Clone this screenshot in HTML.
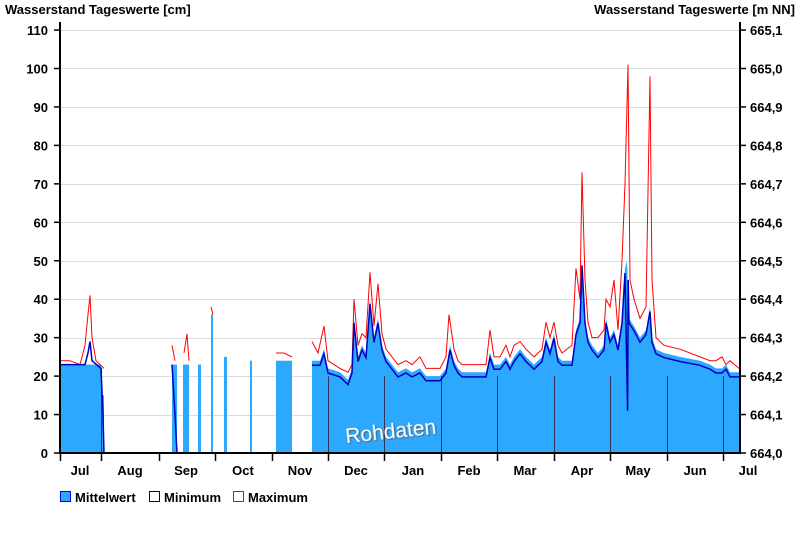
<!DOCTYPE html>
<html><head><meta charset="utf-8"><style>
body{margin:0;background:#fff;}
svg{display:block;font-family:"Liberation Sans",sans-serif;}
</style></head><body>
<svg width="800" height="550" viewBox="0 0 800 550">
<defs>
<filter id="sh"><feDropShadow dx="1" dy="1" stdDeviation="0.8" flood-color="#555"/></filter>
</defs>
<text x="5" y="14" font-size="13" font-weight="bold">Wasserstand Tageswerte [cm]</text>
<text x="795" y="14" font-size="13" font-weight="bold" text-anchor="end">Wasserstand Tageswerte [m NN]</text>
<g stroke="#ddd" stroke-width="1">
<line x1="60" x2="740" y1="30.5" y2="30.5"/><line x1="60" x2="740" y1="68.5" y2="68.5"/><line x1="60" x2="740" y1="107.5" y2="107.5"/><line x1="60" x2="740" y1="145.5" y2="145.5"/><line x1="60" x2="740" y1="184.5" y2="184.5"/><line x1="60" x2="740" y1="222.5" y2="222.5"/><line x1="60" x2="740" y1="261.5" y2="261.5"/><line x1="60" x2="740" y1="299.5" y2="299.5"/><line x1="60" x2="740" y1="338.5" y2="338.5"/><line x1="60" x2="740" y1="376.5" y2="376.5"/><line x1="60" x2="740" y1="415.5" y2="415.5"/>
</g>
<g id="data"></g>
<text x="345" y="438" font-size="21" fill="#fff" filter="url(#sh)" transform="rotate(-6 395 430)">Rohdaten</text>
<g stroke="#000" stroke-width="2">
<line x1="60" y1="22" x2="60" y2="454"/><line x1="740" y1="22" x2="740" y2="454"/><line x1="59" y1="453" x2="741" y2="453"/>
</g>
<g id="ticks" stroke="#000" stroke-width="1.5"></g>
<g font-size="13" font-weight="bold" text-anchor="end" id="yl"></g>
<g font-size="13" font-weight="bold" id="yr"></g>
<g font-size="13" font-weight="bold" text-anchor="middle">
<text x="80" y="475">Jul</text><text x="130" y="475">Aug</text><text x="186" y="475">Sep</text><text x="243" y="475">Oct</text><text x="300" y="475">Nov</text><text x="356" y="475">Dec</text><text x="413" y="475">Jan</text><text x="469" y="475">Feb</text><text x="525" y="475">Mar</text><text x="582" y="475">Apr</text><text x="638" y="475">May</text><text x="695" y="475">Jun</text><text x="748" y="475">Jul</text>
</g>
<rect x="60.5" y="491.5" width="10" height="10" fill="#2CA8FF" stroke="#0000ff"/>
<text x="75" y="502" font-size="13" font-weight="bold">Mittelwert</text>
<rect x="149.5" y="491.5" width="10" height="10" fill="#fff" stroke="#000080"/>
<text x="164" y="502" font-size="13" font-weight="bold">Minimum</text>
<rect x="233.5" y="491.5" width="10" height="10" fill="#fff" stroke="#ff0000"/>
<text x="248" y="502" font-size="13" font-weight="bold">Maximum</text>
</svg>
<script>
const Y=v=>453-v*3.845, NS="http://www.w3.org/2000/svg";
const g=document.getElementById('data');
function el(t,a,p){const e=document.createElementNS(NS,t);for(const k in a)e.setAttribute(k,a[k]);(p||g).appendChild(e);return e;}
[[60,101,23],[101,104,15],[172,177,23],[183,189,23],[198,201,23],[211,213,36],[224,227,25],[250,252,24],[276,292,24]].forEach(b=>el('rect',{x:b[0],y:Y(b[2]),width:b[1]-b[0],height:b[2]*3.845,fill:'#2CA8FF'}));
const mean=[[312,24],[320,24],[324,27],[328,22],[340,21],[348,19],[352,22],[354,35],[358,25],[362,28],[366,26],[370,40],[374,30],[378,35],[382,28],[386,25],[392,23],[398,21],[406,22],[412,21],[420,22],[426,20],[440,20],[446,22],[450,28],[454,24],[458,22],[462,21],[486,21],[490,26],[494,23],[500,23],[506,25],[510,23],[514,25],[520,27],[526,25],[534,23],[542,25],[546,30],[550,27],[554,31],[558,25],[562,24],[572,24],[576,32],[580,35],[582,50],[585,35],[588,30],[592,28],[598,26],[604,28],[606,35],[610,30],[614,32],[618,28],[622,35],[625,48],[627,50],[629,35],[634,33],[640,30],[646,32],[650,38],[652,30],[656,27],[664,26],[680,25],[700,24],[710,23],[716,22],[722,22],[726,23],[730,21],[739,21]];
const pts=a=>a.map(p=>p[0]+','+Y(p[1]).toFixed(1)).join(' ');
el('polygon',{points:'312,453 '+pts(mean)+' 739,453',fill:'#2CA8FF'});
[328,384,441,497,554,610,667,723].forEach(x=>el('line',{x1:x+.5,x2:x+.5,y1:453,y2:Y(20),stroke:'#335',"stroke-width":1}));
el('line',{x1:101.5,x2:101.5,y1:453,y2:Y(22),stroke:'#335'});
let mn=mean.map(p=>[p[0],p[1]-1.2]);
mn.push([627.6,11],[628.2,45]); mn.sort((a,b)=>a[0]-b[0]);
mn=mn.filter(p=>!(p[0]===627));
const mx=[[312,29],[318,26],[324,33],[328,24],[340,22],[348,21],[352,23],[354,40],[358,28],[362,31],[366,30],[370,47],[374,33],[378,44],[382,31],[386,27],[392,25],[398,23],[406,24],[412,23],[420,25],[426,22],[440,22],[446,25],[449,36],[454,27],[458,24],[462,23],[486,23],[490,32],[494,25],[500,25],[506,28],[510,25],[514,28],[520,29],[526,27],[534,25],[542,27],[546,34],[550,30],[554,34],[558,28],[562,26],[572,28],[576,48],[580,40],[582,73],[585,45],[588,34],[592,30],[598,30],[604,32],[606,40],[610,38],[614,45],[618,32],[622,50],[625,70],[628,101],[630,45],[634,40],[640,35],[646,38],[650,98],[652,45],[656,30],[664,28],[680,27],[700,25],[710,24],[716,24],[722,25],[726,23],[730,24],[739,22]];
el('polyline',{points:pts([[60,24],[70,24],[80,23],[85,28],[88,36],[90,41],[92,30],[96,24],[104,22]]),fill:'none',stroke:'#f00'});
el('polyline',{points:pts([[172,28],[175,24]]),fill:'none',stroke:'#f00'});
el('polyline',{points:pts([[184,26],[187,31],[189,24]]),fill:'none',stroke:'#f00'});
el('polyline',{points:pts([[211,38],[213,36]]),fill:'none',stroke:'#f00'});
el('polyline',{points:pts([[276,26],[284,26],[292,25]]),fill:'none',stroke:'#f00'});
el('polyline',{points:pts(mx),fill:'none',stroke:'#f00'});
el('polyline',{points:pts([[60,23],[85,23],[88,26],[90,29],[92,24],[101,22],[103,10],[104,0]]),fill:'none',stroke:'#0000c0',"stroke-width":1.5});
el('polyline',{points:pts([[172,23],[175,10],[177,0]]),fill:'none',stroke:'#0000c0',"stroke-width":1.5});
el('polyline',{points:pts(mn),fill:'none',stroke:'#0000c0',"stroke-width":1.5});
const tk=document.getElementById('ticks'), yl=document.getElementById('yl'), yr=document.getElementById('yr');
for(let v=0;v<=110;v+=10){const y=Y(v);el('line',{x1:54,x2:60,y1:y,y2:y},tk);el('line',{x1:740,x2:746,y1:y,y2:y},tk);
 el('text',{x:48,y:y+5},yl).textContent=v;
 el('text',{x:750,y:y+5},yr).textContent=(v<100?'664,'+(v/10):'665,'+((v-100)/10));}
[60,101,159,215,272,328,384,441,497,554,610,667,723].forEach(x=>el('line',{x1:x+.5,x2:x+.5,y1:453,y2:461},tk));
</script>
</body></html>
